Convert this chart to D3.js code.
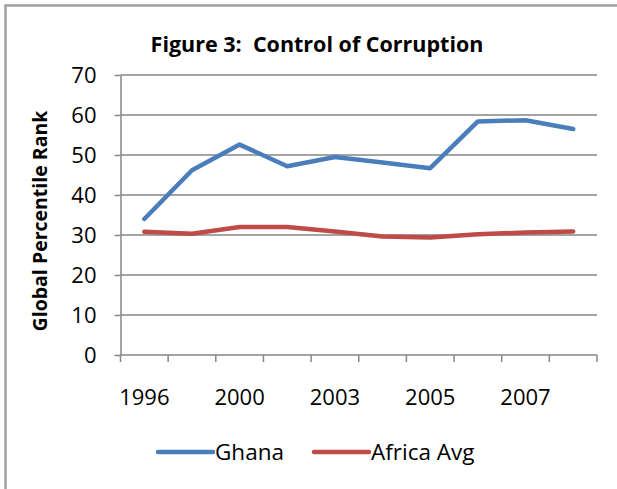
<!DOCTYPE html>
<html>
<head>
<meta charset="utf-8">
<script src="https://cdn.jsdelivr.net/npm/d3@7"></script>
<style>
  body { margin: 0; background: #fff; }
  svg text { font-family: "Open Sans", "Liberation Sans", sans-serif; fill: #000; }
</style>
</head>
<body>
<div class="chart"></div>
<script>
// data
var years = ["1996", "1998", "2000", "2002", "2003", "2004", "2005", "2006", "2007", "2008"];
var ghana = [34.0, 46.2, 52.6, 47.2, 49.5, 48.1, 46.7, 58.4, 58.7, 56.5];
var africaAvg = [30.8, 30.3, 32.0, 32.0, 30.9, 29.6, 29.4, 30.2, 30.6, 30.9];
var yTicks = [0, 10, 20, 30, 40, 50, 60, 70];
var seriesNames = ["Ghana", "Africa Avg"];
var seriesColors = ["#4a7ebb", "#be4b48"];

var W = 617, H = 489;
var plot = {left: 120.5, right: 597, top: 75, bottom: 355};

var svg = d3.select(".chart").append("svg")
    .attr("width", W)
    .attr("height", H);

// outer frame (only left and top edges show)
svg.append("path")
    .attr("d", "M5.5," + H + "V5.5H" + W)
    .attr("fill", "none")
    .attr("stroke", "#a0a0a0")
    .attr("stroke-width", 2.5);

// scales
var x = d3.scaleBand().domain(years).range([plot.left, plot.right]);
var y = d3.scaleLinear().domain([0, 70]).range([plot.bottom, plot.top]);

// title
svg.append("text")
    .attr("x", 317)
    .attr("y", 52)
    .attr("text-anchor", "middle")
    .style("font-size", "21.5px")
    .style("font-weight", "bold")
    .style("white-space", "pre")
    .text("Figure 3:  Control of Corruption");

// gridlines
svg.append("g")
    .selectAll("line")
    .data(yTicks.filter(function(d) { return d > 0; }))
    .enter().append("line")
    .attr("x1", plot.left)
    .attr("x2", plot.right)
    .attr("y1", function(d) { return y(d); })
    .attr("y2", function(d) { return y(d); })
    .attr("stroke", "#868686")
    .attr("stroke-width", 1.5);

// y axis
var yAxis = svg.append("g")
    .attr("transform", "translate(" + plot.left + ",0)")
    .call(d3.axisLeft(y).tickValues(yTicks).tickSize(6).tickSizeOuter(0).tickPadding(18));
yAxis.select(".domain").attr("stroke", "#868686").attr("stroke-width", 1.5);
yAxis.selectAll(".tick line").attr("stroke", "#868686").attr("stroke-width", 1.5);
yAxis.selectAll(".tick text")
    .attr("dy", "0.36em")
    .style("font-size", "22px")
    .style("font-family", "'Open Sans', sans-serif");

// x axis line and boundary ticks
var xAxis = svg.append("g")
    .attr("transform", "translate(0," + plot.bottom + ")");
xAxis.append("line")
    .attr("x1", plot.left)
    .attr("x2", plot.right)
    .attr("stroke", "#868686")
    .attr("stroke-width", 1.5);
xAxis.selectAll(".bound")
    .data(years.map(function(d) { return x(d); }).concat([plot.right]))
    .enter().append("line")
    .attr("class", "bound")
    .attr("x1", function(d) { return d; })
    .attr("x2", function(d) { return d; })
    .attr("y1", 0)
    .attr("y2", 7)
    .attr("stroke", "#868686")
    .attr("stroke-width", 1.5);
xAxis.selectAll(".xlabel")
    .data(years.filter(function(d, i) { return i % 2 === 0; }))
    .enter().append("text")
    .attr("class", "xlabel")
    .attr("x", function(d) { return x(d) + x.bandwidth() / 2; })
    .attr("y", 50)
    .attr("text-anchor", "middle")
    .style("font-size", "22px")
    .text(function(d) { return d; });

// y axis title
svg.append("text")
    .attr("transform", "translate(47,221) rotate(-90)")
    .attr("text-anchor", "middle")
    .style("font-size", "19.5px")
    .style("font-weight", "bold")
    .text("Global Percentile Rank");

// lines
var line = d3.line()
    .x(function(d, i) { return x(years[i]) + x.bandwidth() / 2; })
    .y(function(d) { return y(d); });

[ghana, africaAvg].forEach(function(vals, k) {
    svg.append("path")
        .datum(vals)
        .attr("d", line)
        .attr("fill", "none")
        .attr("stroke", seriesColors[k])
        .attr("stroke-width", 4.5)
        .attr("stroke-linecap", "round")
        .attr("stroke-linejoin", "round");
});

// legend
var legendX = [158, 314];
var legend = svg.append("g");
seriesNames.forEach(function(name, k) {
    legend.append("line")
        .attr("x1", legendX[k])
        .attr("x2", legendX[k] + 55)
        .attr("y1", 452)
        .attr("y2", 452)
        .attr("stroke", seriesColors[k])
        .attr("stroke-width", 4.5)
        .attr("stroke-linecap", "round");
    legend.append("text")
        .attr("x", legendX[k] + 57)
        .attr("y", 460)
        .style("font-size", "22.5px")
        .text(name);
});
</script>
</body>
</html>
